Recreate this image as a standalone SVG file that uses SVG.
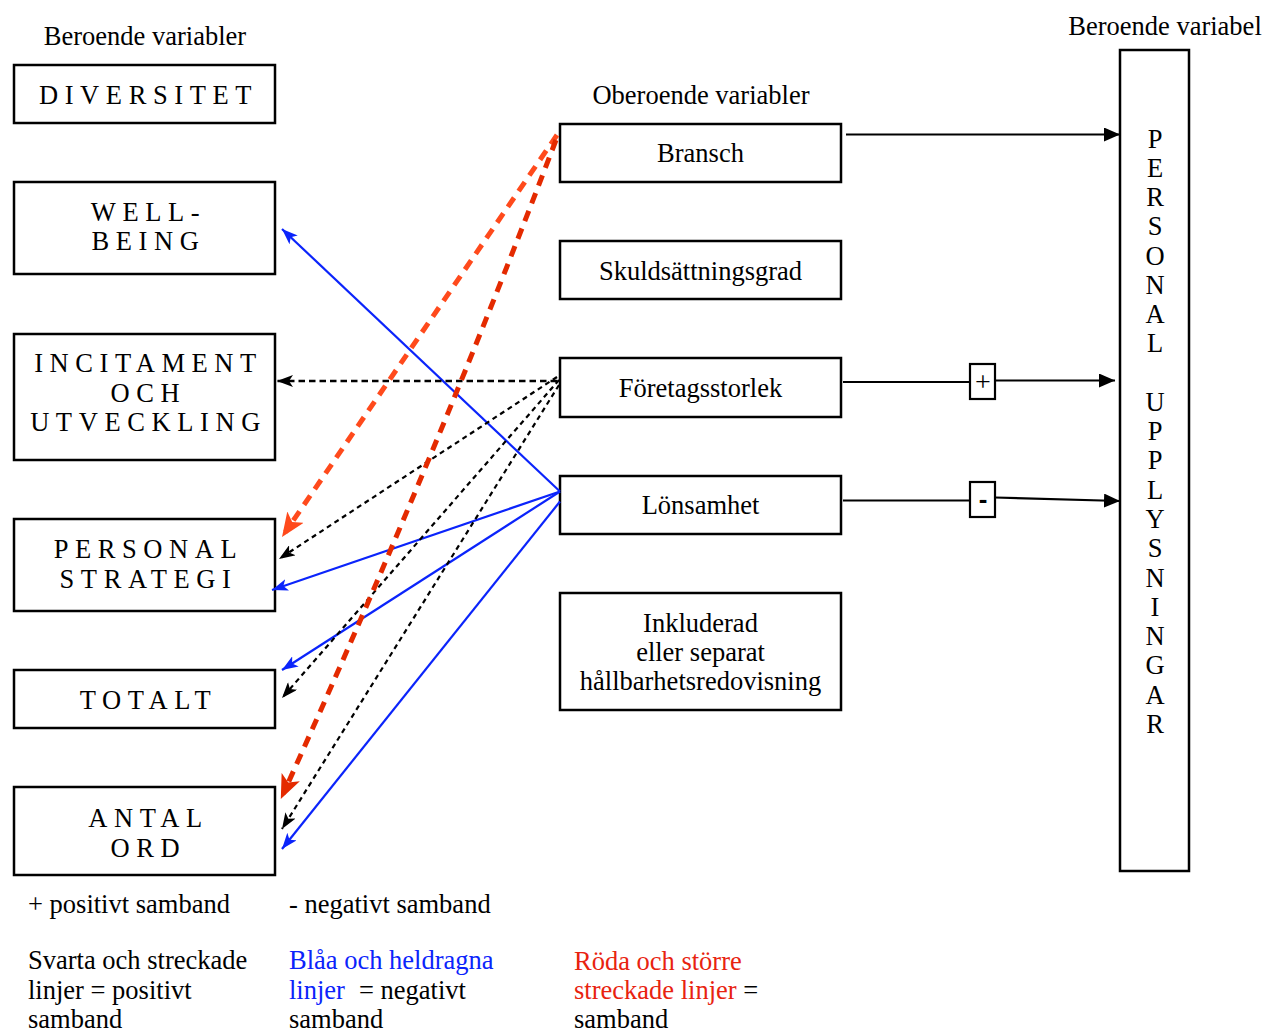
<svg xmlns="http://www.w3.org/2000/svg" width="1264" height="1033" viewBox="0 0 1264 1033">
<defs>
<style>
text{font-family:"Liberation Serif","Times New Roman",serif;font-size:26.5px;fill:#000}
.box{fill:#fff;stroke:#000;stroke-width:2.5}
.cap{letter-spacing:6.6px;text-anchor:middle}
.mid{text-anchor:middle}
.solid{fill:none;stroke:#000;stroke-width:2.2}
.blue{fill:none;stroke:#0b24fb;stroke-width:2.2}
.dot{fill:none;stroke:#000;stroke-width:2.2;stroke-dasharray:5 4}
.dotH{fill:none;stroke:#000;stroke-width:2.4;stroke-dasharray:6.5 4}
.red1{fill:none;stroke:#ff4a1c;stroke-width:5;stroke-dasharray:11 8}
.red2{fill:none;stroke:#e42a00;stroke-width:5;stroke-dasharray:11 8}
.btxt{fill:#0b24fb}
.rtxt{fill:#e8230f}
</style>
<marker id="ahS" viewBox="0 0 16 14" refX="16" refY="7" markerWidth="16" markerHeight="14" orient="auto" markerUnits="userSpaceOnUse"><path d="M0,0 L16,7 L0,14 Z" fill="#000"/></marker>
<marker id="ahD" viewBox="0 0 16 12" refX="16" refY="6" markerWidth="16" markerHeight="12" orient="auto" markerUnits="userSpaceOnUse"><path d="M0,0 L16,6 L0,12 L4,6 Z" fill="#000"/></marker>
<marker id="ahB" viewBox="0 0 16 12" refX="16" refY="6" markerWidth="16" markerHeight="12" orient="auto" markerUnits="userSpaceOnUse"><path d="M0,0 L16,6 L0,12 L4,6 Z" fill="#0b24fb"/></marker>
<marker id="ahR1" viewBox="0 0 24 20" refX="18" refY="10" markerWidth="24" markerHeight="20" orient="auto" markerUnits="userSpaceOnUse"><path d="M0,0 L24,10 L0,20 L6,10 Z" fill="#ff4a1c"/></marker>
<marker id="ahR2" viewBox="0 0 24 20" refX="18" refY="10" markerWidth="24" markerHeight="20" orient="auto" markerUnits="userSpaceOnUse"><path d="M0,0 L24,10 L0,20 L6,10 Z" fill="#e42a00"/></marker>
</defs>
<rect width="1264" height="1033" fill="#fff"/>

<text class="mid" x="145" y="45">Beroende variabler</text>
<text class="mid" x="701" y="104">Oberoende variabler</text>
<text class="mid" x="1165" y="35">Beroende variabel</text>

<g id="diversitet"><rect class="box" x="14" y="65" width="261" height="58"/><text class="cap" x="148.5" y="104">DIVERSITET</text></g>
<g id="wellbeing"><rect class="box" x="14" y="182" width="261" height="92"/><text class="cap" x="148.5" y="221">WELL-</text><text class="cap" x="148.5" y="250">BEING</text></g>
<g id="incitament"><rect class="box" x="14" y="334" width="261" height="126"/><text class="cap" x="148.5" y="372">INCITAMENT</text><text class="cap" x="148.5" y="402">OCH</text><text class="cap" x="148.5" y="431">UTVECKLING</text></g>
<g id="personalstrategi"><rect class="box" x="14" y="519" width="261" height="92"/><text class="cap" x="148.5" y="558">PERSONAL</text><text class="cap" x="148.5" y="588">STRATEGI</text></g>
<g id="totalt"><rect class="box" x="14" y="670" width="261" height="58"/><text class="cap" x="148.5" y="709">TOTALT</text></g>
<g id="antalord"><rect class="box" x="14" y="787" width="261" height="88"/><text class="cap" x="148.5" y="827">ANTAL</text><text class="cap" x="148.5" y="857">ORD</text></g>

<g id="bransch"><rect class="box" x="560" y="124" width="281" height="58"/><text class="mid" x="700.5" y="162">Bransch</text></g>
<g id="skuld"><rect class="box" x="560" y="241" width="281" height="58"/><text class="mid" x="700.5" y="280">Skuldsättningsgrad</text></g>
<g id="foretagsstorlek"><rect class="box" x="560" y="358" width="281" height="59"/><text class="mid" x="700.5" y="397">Företagsstorlek</text></g>
<g id="lonsamhet"><rect class="box" x="560" y="476" width="281" height="58"/><text class="mid" x="700.5" y="514">Lönsamhet</text></g>
<g id="inkluderad"><rect class="box" x="560" y="593" width="281" height="117"/><text class="mid" x="700.5" y="632">Inkluderad</text><text class="mid" x="700.5" y="661">eller separat</text><text class="mid" x="700.5" y="690">hållbarhetsredovisning</text></g>

<g id="personalupplysningar"><rect class="box" x="1120" y="50" width="69" height="821"/>
<text class="mid" x="1155" y="148">P</text><text class="mid" x="1155" y="177">E</text><text class="mid" x="1155" y="206">R</text><text class="mid" x="1155" y="235">S</text><text class="mid" x="1155" y="265">O</text><text class="mid" x="1155" y="294">N</text><text class="mid" x="1155" y="323">A</text><text class="mid" x="1155" y="352">L</text>
<text class="mid" x="1155" y="411">U</text><text class="mid" x="1155" y="440">P</text><text class="mid" x="1155" y="469">P</text><text class="mid" x="1155" y="499">L</text><text class="mid" x="1155" y="528">Y</text><text class="mid" x="1155" y="557">S</text><text class="mid" x="1155" y="587">N</text><text class="mid" x="1155" y="616">I</text><text class="mid" x="1155" y="645">N</text><text class="mid" x="1155" y="674">G</text><text class="mid" x="1155" y="704">A</text><text class="mid" x="1155" y="733">R</text>
</g>

<g id="connectors">
<path class="solid" d="M846,134.5 L1120,134.5" marker-end="url(#ahS)"/>
<path class="solid" d="M843,382 L970,382"/>
<rect class="box" x="970" y="364" width="25" height="35" style="stroke-width:2.2"/>
<text class="mid" x="983" y="391" style="font-size:28px">+</text>
<path class="solid" d="M995,380.5 L1115,380.5" marker-end="url(#ahS)"/>
<path class="solid" d="M843,500.5 L970,500.5"/>
<rect class="box" x="970" y="482" width="25" height="35" style="stroke-width:2.2"/>
<text class="mid" x="983" y="508" style="font-size:26px;font-weight:bold;font-family:'Liberation Sans',Arial,sans-serif">-</text>
<path class="solid" d="M995,497.5 L1120,501" marker-end="url(#ahS)"/>

<path class="blue" d="M560,491.5 L282,229" marker-end="url(#ahB)"/>
<path class="blue" d="M560,491.5 L272,590" marker-end="url(#ahB)"/>
<path class="blue" d="M560,491.5 L282,670" marker-end="url(#ahB)"/>
<path class="blue" d="M560,501.5 L282,849" marker-end="url(#ahB)"/>

<path class="dotH" d="M557,381 L277,381" marker-end="url(#ahD)"/>
<path class="dot" d="M557,377 L279,559" marker-end="url(#ahD)"/>
<path class="dot" d="M559,380 L282,698" marker-end="url(#ahD)"/>
<path class="dot" d="M559,385 L282,829" marker-end="url(#ahD)"/>

<path class="red1" d="M557,135 L285.4,532" marker-end="url(#ahR1)"/>
<path class="red2" d="M556,140 Q432,466 283.3,793.5" marker-end="url(#ahR2)"/>
</g>

<g id="legend">
<text x="28" y="913">+ positivt samband</text>
<text x="289" y="913">- negativt samband</text>
<text x="28" y="969">Svarta och streckade</text>
<text x="28" y="999">linjer = positivt</text>
<text x="28" y="1028">samband</text>
<text x="289" y="969" class="btxt">Blåa och heldragna</text>
<text x="289" y="999"><tspan class="btxt">linjer</tspan><tspan x="359">= negativt</tspan></text>
<text x="289" y="1028">samband</text>
<text x="574" y="970" class="rtxt">Röda och större</text>
<text x="574" y="999"><tspan class="rtxt">streckade linjer</tspan> =</text>
<text x="574" y="1028">samband</text>
</g>
</svg>
